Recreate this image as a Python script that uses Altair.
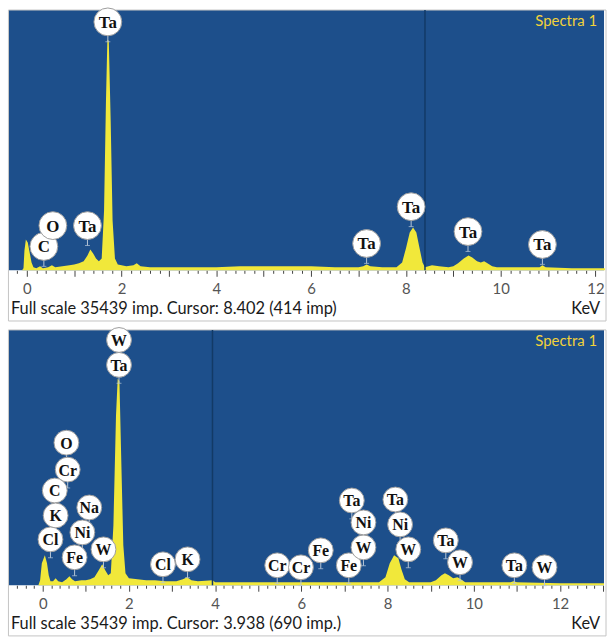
import altair as alt
import numpy as np
import pandas as pd

FULL_SCALE = 35439  # imp

# ---------------- Spectrum 1 ----------------
spec1_kev = [-0.38, -0.10, -0.07, -0.05, -0.02, 0.02, 0.06, 0.10, 0.14, 0.20,
             0.28, 0.34, 0.45, 0.53, 0.60, 0.75, 0.90, 1.00, 1.10, 1.20,
             1.28, 1.34, 1.40, 1.46, 1.52, 1.58, 1.63, 1.67, 1.70, 1.73,
             1.77, 1.81, 1.86, 1.92, 2.00, 2.10, 2.25, 2.32, 2.40, 2.60,
             3.00, 4.00, 4.50, 5.00, 5.50, 6.00, 6.50, 7.00, 7.10, 7.17,
             7.25, 7.50, 7.80, 7.92, 8.00, 8.08, 8.15, 8.22, 8.28, 8.35,
             8.40, 8.55, 8.70, 8.90, 9.00, 9.10, 9.22, 9.32, 9.40, 9.50,
             9.58, 9.65, 9.72, 9.82, 9.92, 10.50, 10.82, 10.88, 10.95, 11.50,
             12.20]
spec1_imp = [0, 0, 270, 2700, 4200, 3800, 2440, 1080, 410, 270,
             540, 270, 410, 680, 410, 540, 680, 810, 950, 1220,
             2030, 2840, 2300, 1620, 1220, 1620, 8120, 23000, 31400, 31250,
             20300, 6770, 1620, 810, 680, 540, 680, 950, 540, 410,
             410, 410, 540, 540, 540, 540, 410, 410, 540, 810,
             540, 410, 410, 1080, 2980, 5140, 5820, 5140, 3250, 1080,
             414, 680, 540, 410, 540, 950, 1620, 2030, 1760, 1220,
             1080, 1220, 950, 540, 410, 410, 410, 680, 410, 270,
             270]
lab1_el = ["Ta", "C", "O", "Ta", "Ta", "Ta", "Ta", "Ta"]
lab1_kev = [1.71, 0.36, 0.55, 1.28, 7.17, 8.11, 9.31, 10.88]
lab1_imp = [33825, 3247, 6089, 6089, 3653, 8659, 5277, 3518]
cursor1_kev, cursor1_imp, cursor1_unit = 8.402, 414, "imp"

# ---------------- Spectrum 2 ----------------
spec2_kev = [-0.78, -0.10, -0.06, -0.02, 0.05, 0.10, 0.14, 0.18, 0.24, 0.30,
             0.36, 0.45, 0.55, 0.62, 0.68, 0.75, 0.90, 1.00, 1.10, 1.20,
             1.30, 1.38, 1.45, 1.52, 1.58, 1.64, 1.70, 1.74, 1.78, 1.82,
             1.87, 1.92, 2.00, 2.20, 2.40, 2.60, 2.85, 3.10, 3.25, 3.35,
             3.45, 3.60, 3.94, 4.00, 5.00, 6.00, 7.00, 7.80, 7.95, 8.05,
             8.15, 8.25, 8.32, 8.40, 8.50, 9.00, 9.12, 9.25, 9.33, 9.42,
             9.52, 9.62, 9.70, 9.80, 10.85, 10.92, 11.00, 12.00, 13.02]
spec2_imp = [0, 0, 690, 3040, 4150, 3040, 1380, 550, 550, 970,
             550, 415, 830, 1250, 830, 550, 690, 690, 830, 1110,
             2080, 2910, 2080, 1380, 1660, 8300, 23500, 28700, 28300, 18000,
             5540, 1660, 970, 830, 690, 690, 550, 550, 830, 1110,
             690, 550, 690, 415, 415, 415, 415, 415, 1110, 3040,
             4150, 3740, 2210, 830, 415, 415, 690, 1380, 1660, 1380,
             970, 1110, 830, 415, 415, 550, 415, 280, 280]
lab2_el = ["W", "Ta", "O", "Cr", "C", "K", "Cl", "Na", "Ni", "Fe",
           "W", "Cl", "K", "Cr", "Cr", "Fe", "Fe", "W", "Ni", "Ta",
           "Ta", "Ni", "W", "Ta", "W", "Ta", "W"]
lab2_kev = [1.77, 1.77, 0.55, 0.58, 0.28, 0.30, 0.18, 1.08, 0.92, 0.74,
            1.41, 2.79, 3.36, 5.44, 5.99, 6.45, 7.10, 7.44, 7.44, 7.17,
            8.18, 8.29, 8.48, 9.35, 9.68, 10.94, 11.64]
lab2_imp = [34046, 30586, 19791, 16054, 13148, 9688, 6366, 10795, 7335, 3875,
            4982, 2906, 3598, 2768, 2491, 4844, 2768, 5259, 8719, 11764,
            11902, 8442, 4982, 6228, 3183, 2768, 2491]
cursor2_kev, cursor2_imp, cursor2_unit = 3.938, 690, "imp."

TITLE = "Spectra 1"

BLUE = "#1d4f8b"
YELLOW = "#f1e83a"
CURSOR = "#123a66"
LABEL_FONT = "Lato"


def panel(kev, imp, lab_el, lab_kev, lab_imp, cur_kev, cur_imp, cur_unit,
          x_domain, width, height, circle_d, font_size, footer_dy):
    px_per_imp = height / FULL_SCALE
    xs = alt.Scale(domain=x_domain, nice=False, zero=False)
    ys = alt.Scale(domain=[0, FULL_SCALE], nice=False)

    minor = [float(v) for v in np.round(np.arange(np.ceil(x_domain[0] / 0.2) * 0.2,
                                                   x_domain[1], 0.2), 1)]
    axis = alt.Axis(
        values=minor, orient="bottom", domain=False, grid=False,
        tickSize={"condition": {"test": "abs(datum.value - round(datum.value)) < 0.01",
                                "value": 6}, "value": 3},
        tickColor="#444", tickWidth=1,
        labelExpr="abs(datum.value % 2) < 0.01 ? format(datum.value, 'd') : ''",
        labelOverlap=False, labelFlush=False, labelPadding=5,
        labelFont=LABEL_FONT, labelFontSize=15, labelColor="#555", title=None)

    def xenc(field="kev:Q"):
        return alt.X(field, scale=xs, axis=axis)

    def yenc(field="imp:Q"):
        return alt.Y(field, scale=ys, axis=None)

    spec = pd.DataFrame({"kev": kev, "imp": imp})
    labels = pd.DataFrame({"el": lab_el, "kev": lab_kev, "imp": lab_imp})
    cursor = pd.DataFrame({"kev": [cur_kev], "imp": [cur_imp]})
    stem_len = (circle_d / 2 + 6) / px_per_imp

    area = alt.Chart(spec).mark_area(color=YELLOW, interpolate="linear").encode(
        x=xenc(), y=yenc(),
    )
    cur_rule = alt.Chart(cursor).mark_rule(color=CURSOR, strokeWidth=1.5).encode(
        x=xenc(), y=alt.value(0), y2=alt.value(height),
    )
    stems = alt.Chart(labels).transform_calculate(
        stem_end=f"datum.imp - {stem_len}"
    ).mark_rule(color="#b7c7d8", strokeWidth=1).encode(
        x=xenc(), y=yenc(), y2="stem_end:Q",
    )
    stem_feet = alt.Chart(labels).transform_calculate(
        stem_end=f"datum.imp - {stem_len}"
    ).mark_tick(color="#b7c7d8", orient="horizontal", size=5, thickness=1).encode(
        x=xenc(), y=yenc("stem_end:Q"),
    )
    circles = alt.Chart(labels).mark_circle(
        size=circle_d ** 2, fill="white", stroke="#9c9c9c", strokeWidth=1, opacity=1
    ).encode(x=xenc(), y=yenc())
    texts = alt.Chart(labels).mark_text(
        font="Liberation Serif", fontWeight="bold", fontSize=font_size,
        color="#111111", baseline="middle", dy=1
    ).encode(x=xenc(), y=yenc(), text="el:N")
    title = alt.Chart(pd.DataFrame({"t": [TITLE]})).mark_text(
        font=LABEL_FONT, fontSize=15, color="#f2d23a", align="right", baseline="middle"
    ).encode(x=alt.value(width - 7), y=alt.value(11), text="t:N")

    footer_txt = f"Full scale {FULL_SCALE} imp. Cursor: {cur_kev:.3f} ({cur_imp} {cur_unit})"
    footer = alt.Chart(pd.DataFrame({"t": [footer_txt]})).mark_text(
        font=LABEL_FONT, fontSize=16.5, color="#1a1a1a", align="left", baseline="middle"
    ).encode(x=alt.value(2), y=alt.value(height + footer_dy), text="t:N")
    unit = alt.Chart(pd.DataFrame({"t": ["KeV"]})).mark_text(
        font=LABEL_FONT, fontSize=16.5, color="#1a1a1a", align="right", baseline="middle"
    ).encode(x=alt.value(width - 4), y=alt.value(height + footer_dy), text="t:N")
    frame = alt.Chart(pd.DataFrame({"t": [0]})).mark_rect(
        filled=False, stroke="#c4c4c4", strokeWidth=1
    ).encode(x=alt.value(-0.5), x2=alt.value(width + 2),
             y=alt.value(0), y2=alt.value(height + footer_dy + 12))

    return alt.layer(frame, area, cur_rule, stems, stem_feet, circles, texts,
                     title, footer, unit).properties(width=width, height=height)


top = panel(spec1_kev, spec1_imp, lab1_el, lab1_kev, lab1_imp,
            cursor1_kev, cursor1_imp, cursor1_unit,
            [-0.377, 12.18], 599, 262, 28, 17, 39)
bottom = panel(spec2_kev, spec2_imp, lab2_el, lab2_kev, lab2_imp,
               cursor2_kev, cursor2_imp, cursor2_unit,
               [-0.783, 13.02], 599, 257, 25, 16, 39)

chart = alt.vconcat(top, bottom, spacing=60, bounds="flush").properties(
    padding={"left": 8, "top": 3, "right": 0, "bottom": 0},
    background="white",
).configure_view(fill=BLUE, strokeWidth=0)

chart.save("out.html", embed_options={"renderer": "svg", "actions": False})
